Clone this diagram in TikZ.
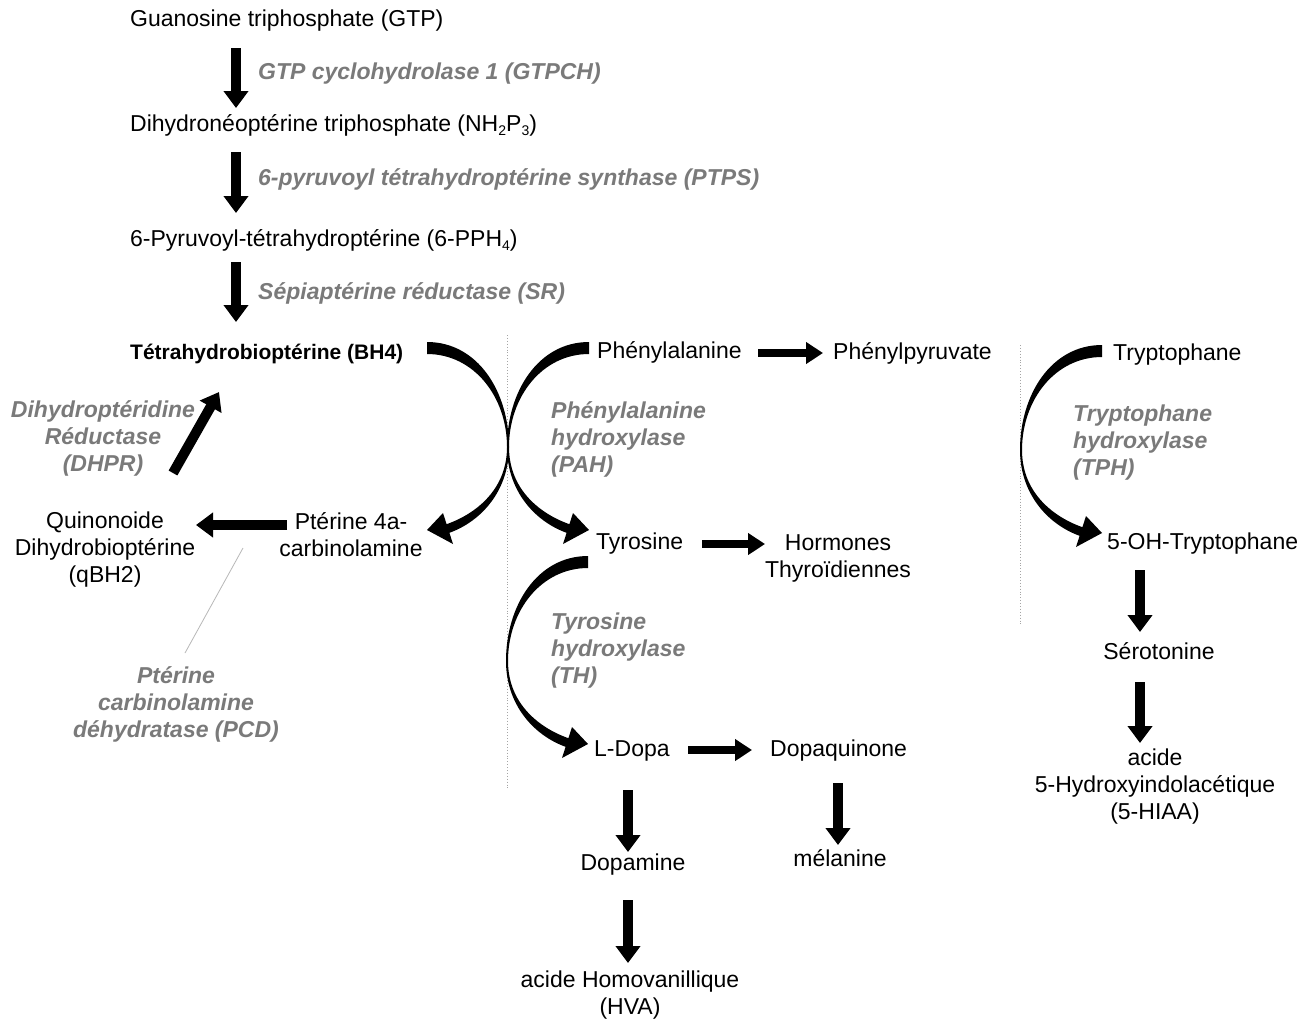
\documentclass[tikz,border=0pt]{standalone}
\usepackage{fontspec}
\setmainfont{Liberation Sans}
\usetikzlibrary{arrows.meta}
\definecolor{lab}{RGB}{122,122,122}
\definecolor{sepline}{RGB}{165,165,165}
\newcommand\sbs[1]{\raisebox{-0.35ex}{\fontsize{14}{14}\selectfont #1}}
\tikzset{
  txt/.style={font=\fontsize{23}{27}\selectfont, inner sep=0pt, text height=17pt, text depth=5pt},
  mtxt/.style={font=\fontsize{23}{27}\selectfont, inner sep=0pt, align=center},
  enz/.style={font=\fontsize{23}{27}\selectfont\bfseries\itshape, text=lab, inner sep=0pt, align=left},
  vfat/.style={line width=10pt, -{Triangle[width=24pt,length=17pt]}},
  hfat/.style={line width=8pt, -{Triangle[width=21pt,length=17pt]}},
  taper/.pic={
    \fill[black] (0,0) .. controls (-51,0) and (-82,50) .. (-82,105)
      .. controls (-82,148) and (-55,179) .. (-22.4,190.8)
      -- (-26,202) -- (0,188) -- (-16,171) -- (-19.6,182.2)
      .. controls (-51,171) and (-80,146) .. (-80,105)
      .. controls (-80,55) and (-47,12) .. (0,12) -- cycle;
  }
}
\begin{document}
\begin{tikzpicture}[x=1pt,y=-1pt]
\fill[white] (0,0) rectangle (1314,1021);
\useasboundingbox (0,0) rectangle (1314,1021);

% separators
\draw[sepline, dotted, line width=0.9pt] (507,335) -- (507,790);
\draw[sepline, dotted, line width=0.9pt] (1020,345) -- (1020,625);

% text nodes
\node[txt, anchor=west] (gtp) at (130,20) {Guanosine triphosphate (GTP)};
\node[txt, anchor=west] (nhp) at (130,125) {Dihydronéoptérine triphosphate (NH\sbs{2}P\sbs{3})};
\node[txt, anchor=west] (pph) at (130,240) {6-Pyruvoyl-tétrahydroptérine (6-PPH\sbs{4})};
\node[txt, anchor=west, font=\fontsize{21}{25}\selectfont\bfseries] (bh4) at (130,353) {Tétrahydrobioptérine (BH4)};

\node[enz, anchor=west] (gtpch) at (258,74) {GTP cyclohydrolase 1 (GTPCH)};
\node[enz, anchor=west] (ptps) at (258,179) {6-pyruvoyl tétrahydroptérine synthase (PTPS)};
\node[enz, anchor=west] (sr) at (258,293) {Sépiaptérine réductase (SR)};

\node[txt, anchor=west] (phe) at (597,352) {Phénylalanine};
\node[txt, anchor=west] (phpy) at (833,353) {Phénylpyruvate};
\node[txt, anchor=west] (trp) at (1113,354) {Tryptophane};

\node[enz, anchor=west] (pah) at (551,439) {Phénylalanine\\hydroxylase\\(PAH)};
\node[enz, anchor=west] (tph) at (1073,443) {Tryptophane\\hydroxylase\\(TPH)};
\node[enz, anchor=west] (th) at (551,651) {Tyrosine\\hydroxylase\\(TH)};
\node[enz, align=center] (dhpr) at (103,438) {Dihydroptéridine\\Réductase\\(DHPR)};
\node[enz, align=center] (pcd) at (176,704) {Ptérine\\carbinolamine\\déhydratase (PCD)};

\node[mtxt] (pter) at (351,535) {Ptérine 4a-\\carbinolamine};
\node[mtxt] (qbh2) at (105,550) {Quinonoide\\Dihydrobioptérine\\(qBH2)};

\node[txt, anchor=west] (tyr) at (596,543) {Tyrosine};
\node[mtxt] (horm) at (838,558) {Hormones\\Thyroïdiennes};
\node[txt, anchor=west] (ohtrp) at (1107,543) {5-OH-Tryptophane};
\node[txt] (sero) at (1159,653) {Sérotonine};
\node[mtxt] (hiaa) at (1155,787) {acide\\5-Hydroxyindolacétique\\(5-HIAA)};

\node[txt, anchor=west] (ldopa) at (594,750) {L-Dopa};
\node[txt, anchor=west] (dopaq) at (770,750) {Dopaquinone};
\node[txt] (dopa) at (633,864) {Dopamine};
\node[txt] (mel) at (840,860) {mélanine};
\node[mtxt] (hva) at (630,995) {acide Homovanillique\\(HVA)};

% arrow end coordinates
\coordinate (a1s) at (236,48);   \coordinate (a1e) at (236,108);
\coordinate (a2s) at (236,152);  \coordinate (a2e) at (236,213);
\coordinate (a3s) at (236,262);  \coordinate (a3e) at (236,322);
\coordinate (dhs) at (173,473);  \coordinate (dhe) at (219,392);
\coordinate (pqs) at (287,525);  \coordinate (pqe) at (196,525);
\coordinate (phs) at (758,353);  \coordinate (phe2) at (823,353);
\coordinate (tys) at (702,544);  \coordinate (tye) at (765,544);
\coordinate (lds) at (688,750);  \coordinate (lde) at (752,750);
\coordinate (dms) at (628,790);  \coordinate (dme) at (628,852);
\coordinate (hvs) at (628,900);  \coordinate (hve) at (628,963);
\coordinate (mls) at (838,783);  \coordinate (mle) at (838,845);
\coordinate (srs) at (1140,570); \coordinate (sre) at (1140,632);
\coordinate (his) at (1140,682); \coordinate (hie) at (1140,743);
\coordinate (pcdA) at (243,548); \coordinate (pcdB) at (185,653);

% straight arrows
\draw[vfat] (a1s) -- (a1e);
\draw[vfat] (a2s) -- (a2e);
\draw[vfat] (a3s) -- (a3e);
\draw[vfat] (dhs) -- (dhe);
\draw[vfat] (pqs) -- (pqe);
\draw[hfat] (phs) -- (phe2);
\draw[hfat] (tys) -- (tye);
\draw[hfat] (lds) -- (lde);
\draw[vfat] (dms) -- (dme);
\draw[vfat] (hvs) -- (hve);
\draw[vfat] (mls) -- (mle);
\draw[vfat] (srs) -- (sre);
\draw[vfat] (his) -- (hie);

% PCD pointer
\draw[black!28, line width=0.8pt] (pcdA) -- (pcdB);

% curved tapered arrows
\pic[xscale=-1] at (427,342) {taper};
\pic at (589,342) {taper};
\pic at (588,556) {taper};
\pic at (1102,345) {taper};
\end{tikzpicture}
\end{document}
